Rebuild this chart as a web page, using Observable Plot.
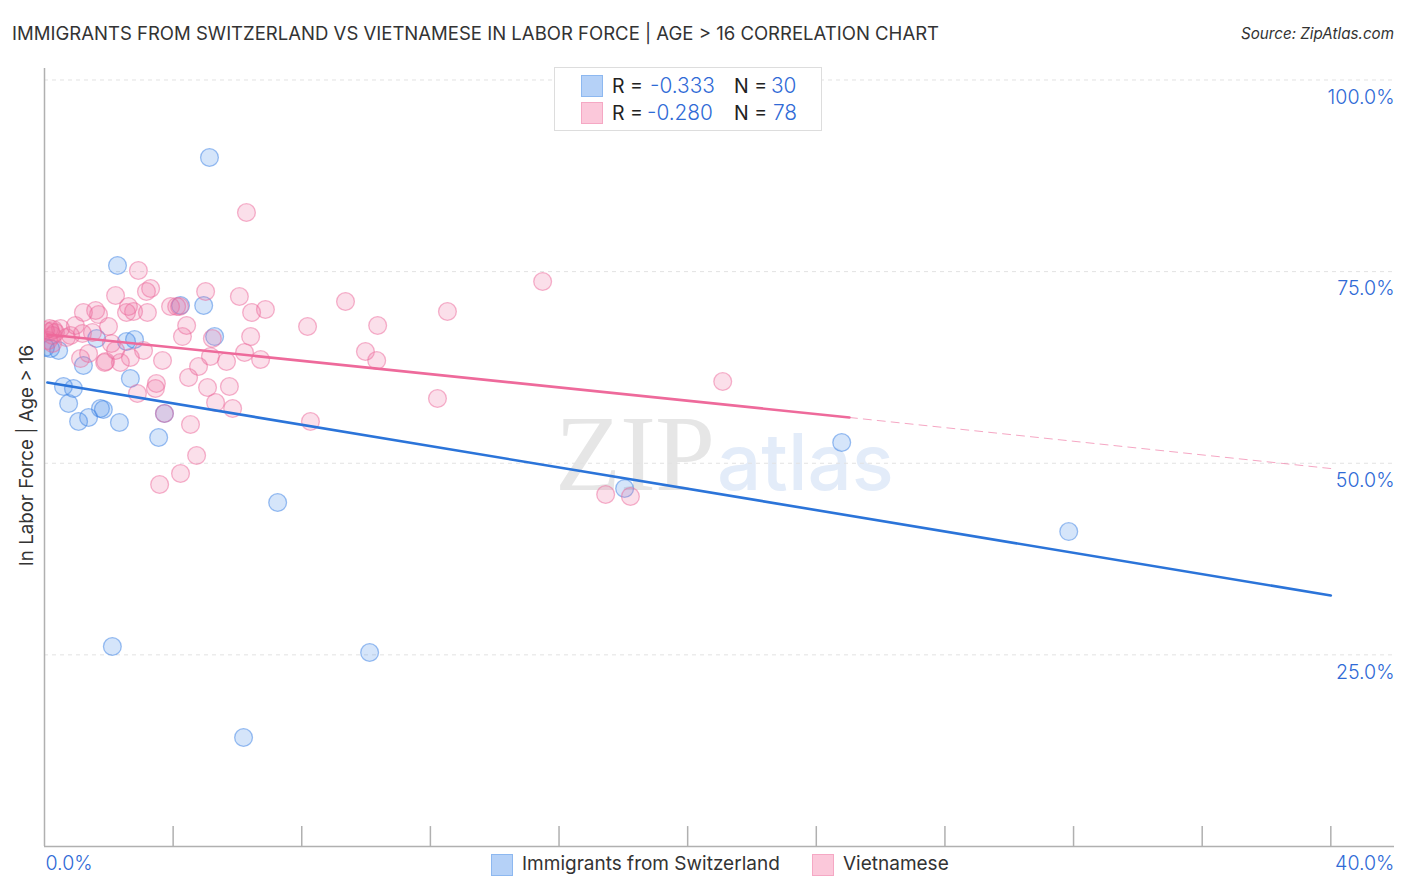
<!DOCTYPE html>
<html><head><meta charset="utf-8">
<script src="https://cdn.jsdelivr.net/npm/d3@7"></script>
<script src="https://cdn.jsdelivr.net/npm/@observablehq/plot@0.6"></script>
<style>
html,body{margin:0;padding:0;background:#fff;width:1406px;height:892px;overflow:hidden;font-family:Inter,sans-serif;color:#222}
.a{position:absolute;white-space:nowrap}
#chart{position:absolute;left:0;top:60px}
#chart svg{background:transparent;overflow:visible}
.v{color:#2f6ad6;font-weight:300}
.sw{position:absolute;width:20px;height:20px;border:1.5px solid}
.b{background:#b5d1f7;border-color:#8db8f0}
.p{background:#fbc8da;border-color:#f5a8c4}
</style></head><body>
<div class="a" style="left:555px;top:400px;font:108px/108px 'Liberation Serif',serif;color:#e6e6e6;letter-spacing:-1px">ZIP</div>
<div class="a" style="left:717px;top:412px;font:78px/100px Inter,sans-serif;font-weight:500;color:#e3ecf9">atlas</div>
<div id="chart"></div>
<div class="a" style="left:12px;top:21px;font-size:18.55px;line-height:24px;color:#333">IMMIGRANTS FROM SWITZERLAND VS VIETNAMESE IN LABOR FORCE | AGE &gt; 16 CORRELATION CHART</div>
<div class="a" style="right:12px;top:24px;font-size:15.2px;line-height:20px;font-style:italic;color:#333">Source: ZipAtlas.com</div>
<div class="a" style="left:554px;top:67px;width:266px;height:62px;background:#fff;border:1.5px solid #ddd"></div>
<div class="sw b" style="left:581px;top:75px"></div>
<div class="sw p" style="left:581px;top:102px"></div>
<div class="a" style="left:612px;top:74px;font-size:19.5px;line-height:24px">R =</div>
<div class="a v" style="left:650px;top:74px;font-size:20.8px;line-height:24px">-0.333</div>
<div class="a" style="left:734px;top:74px;font-size:19.5px;line-height:24px">N =</div>
<div class="a v" style="left:771px;top:74px;font-size:20.8px;line-height:24px">30</div>
<div class="a" style="left:612px;top:101px;font-size:19.5px;line-height:24px">R =</div>
<div class="a v" style="left:647px;top:101px;font-size:20.8px;line-height:24px">-0.280</div>
<div class="a" style="left:734px;top:101px;font-size:19.5px;line-height:24px">N =</div>
<div class="a v" style="left:773px;top:101px;font-size:20.8px;line-height:24px">78</div>
<div class="sw b" style="left:491px;top:854px"></div>
<div class="a" style="left:522px;top:852px;font-size:19px;line-height:24px;color:#333">Immigrants from Switzerland</div>
<div class="sw p" style="left:812px;top:854px"></div>
<div class="a" style="left:843px;top:852px;font-size:19px;line-height:24px;color:#333">Vietnamese</div>
<script>
const blueX = [5.13,2.27,4.23,4.95,5.29,2.80,2.55,1.62,0.19,0.44,1.21,2.67,0.59,0.90,0.75,1.06,1.37,1.74,1.83,2.33,3.55,3.73,7.25,18.04,24.79,31.85,2.11,10.11,6.19,0.03];
const blueY = [89.89,75.80,70.58,70.58,66.53,66.14,65.88,66.27,64.97,64.71,62.75,61.06,60.01,59.75,57.79,55.45,55.97,57.14,57.01,55.32,53.36,56.49,44.88,46.71,52.71,41.09,26.09,25.31,14.22,65.10];
const pinkX = [2.92,2.21,3.30,3.17,2.61,1.21,1.59,1.68,2.55,2.77,3.20,3.92,4.11,4.20,5.01,6.06,6.44,6.87,4.42,4.29,5.22,6.41,8.18,6.22,5.16,5.66,6.72,3.67,4.79,4.48,5.07,5.75,3.48,3.45,2.89,5.32,5.85,3.73,8.27,4.54,4.73,4.23,3.58,6.28,15.49,9.36,12.53,10.36,9.98,10.33,12.22,21.09,17.45,18.22,0.03,0.16,0.19,0.25,0.28,0.34,0.12,0.25,0.50,0.68,0.81,0.96,1.18,1.49,1.99,1.37,1.12,1.87,1.90,2.36,2.67,2.21,2.08,3.08];
const pinkY = [75.15,71.88,72.80,72.41,70.45,69.67,69.93,69.40,69.67,69.80,69.67,70.45,70.45,70.45,72.41,71.75,69.67,70.06,67.97,66.53,66.27,66.53,67.84,64.45,63.93,63.27,63.53,63.40,62.62,61.19,59.88,60.01,60.40,59.75,59.10,57.92,57.14,56.49,55.45,55.05,51.01,48.66,47.23,82.71,73.71,71.10,69.80,67.97,64.58,63.40,58.45,60.66,45.92,45.66,67.32,67.58,67.19,66.67,67.45,67.06,66.01,65.62,67.58,66.40,66.67,67.97,66.93,67.06,67.84,64.32,63.66,63.14,63.27,63.14,63.80,64.71,65.62,64.71];
const blueLineX = [0.09,40], blueLineY = [60.53,32.75];
const pinkLineX = [0.09,25.03], pinkLineY = [66.8,55.97];
const pinkDashX = [25.03,40], pinkDashY = [55.97,49.31];
const xTicks = [4,8,12,16,20,24,28,32,36,40];
const yTicks = [25,50,75,100];
const xMax = 41.98, yMax = 101.5;
const BLUE="#3b82e6", PINK="#ee6a9b", AX="#b0b0b0", TICK="#2f6ad6";
const pct = d => d.toFixed(1)+"%";
const F = "Inter,sans-serif";
const pts = (X,Y,c)=>Plot.dot(X.map((x,i)=>({x,y:Y[i]})),{x:"x",y:"y",r:8.9,fill:c,fillOpacity:.21,stroke:c,strokeOpacity:.5,strokeWidth:1.3,clip:true});
const line = (X,Y,o)=>Plot.line(X.map((x,i)=>({x,y:Y[i]})),{x:"x",y:"y",...o});
const chart = Plot.plot({
  width:1406,height:818,marginLeft:44,marginRight:12,marginTop:8,marginBottom:32,
  style:{background:"transparent",fontFamily:F},
  x:{domain:[0,xMax],axis:null},y:{domain:[0,yMax],axis:null},
  marks:[
    Plot.ruleY(yTicks,{stroke:"#e2e2e2",strokeDasharray:"4,4",strokeWidth:1}),
    Plot.ruleX(xTicks,{y1:0,y2:2.6,stroke:AX,strokeWidth:1.5}),
    Plot.ruleX([0],{stroke:AX,strokeWidth:1.5}),
    Plot.ruleY([0],{stroke:AX,strokeWidth:1.5}),
    pts(blueX,blueY,BLUE),
    pts(pinkX,pinkY,PINK),
    line(pinkDashX,pinkDashY,{stroke:PINK,strokeWidth:1,strokeDasharray:"8,6",strokeOpacity:.6}),
    line(blueLineX,blueLineY,{stroke:"#2b74d9",strokeWidth:2.6}),
    line(pinkLineX,pinkLineY,{stroke:PINK,strokeWidth:2.6}),
    Plot.text(yTicks,{x:()=>xMax,y:d=>d,text:pct,dy:17.5,textAnchor:"end",fill:TICK,fontSize:19.6,fontWeight:300,fontFamily:F}),
    Plot.text([0],{x:d=>d,y:0,text:pct,dy:17.5,dx:1,textAnchor:"start",fill:TICK,fontSize:19.6,fontWeight:300,fontFamily:F}),
    Plot.text([40],{x:()=>xMax,y:0,text:()=>pct(40),dy:17.5,textAnchor:"end",fill:TICK,fontSize:19.6,fontWeight:300,fontFamily:F}),
    Plot.text(["In Labor Force | Age > 16"],{x:0,y:51,text:d=>d,rotate:-90,dx:-17,fill:"#333",fontSize:18.7,fontFamily:F})
  ]
});
document.getElementById("chart").append(chart);
</script>
</body></html>
